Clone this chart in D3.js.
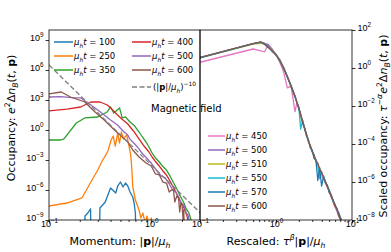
<!DOCTYPE html>
<html>
<head>
<meta charset="utf-8">
<script src="https://cdn.jsdelivr.net/npm/d3@7"></script>
<style>
body { margin: 0; background: #fff; }
svg { font-family: "DejaVu Sans", sans-serif; }
</style>
</head>
<body>
<script>
// ---- left panel: occupancy vs momentum at several times ----
var p100 = [0.22, 0.225, 0.24, 0.255, 0.258, 0.31, 0.315, 0.335, 0.355, 0.38, 0.4, 0.42, 0.45, 0.47, 0.5, 0.53, 0.56, 0.59, 0.62, 0.66, 0.68, 0.7, 0.71];
var n100 = [1e-12, 2.5e-9, 5e-9, 1.3e-8, 1e-12, 1e-12, 1.6e-8, 3.2e-8, 6.3e-8, 4e-7, 1.6e-6, 1e-6, 5e-7, 2.5e-6, 6.3e-6, 2e-6, 5e-6, 2.5e-6, 6.3e-7, 2e-7, 5e-8, 5e-9, 1e-12];

var p250 = [0.1, 0.15, 0.21, 0.257, 0.3, 0.335, 0.36, 0.38, 0.405, 0.425, 0.445, 0.47, 0.49, 0.51, 0.535, 0.575, 0.6, 0.63, 0.645, 0.66, 0.7, 0.76, 0.79, 0.83, 0.87, 0.91, 0.95, 1.0, 1.07];
var n250 = [2.5e-8, 5e-8, 1.6e-7, 6.3e-6, 1e-4, 1e-3, 3.2e-3, 0.01, 0.1, 0.25, 0.025, 0.5, 0.05, 0.63, 0.13, 0.32, 0.04, 3.2e-3, 1.6e-4, 2e-6, 1e-7, 1e-8, 1.6e-9, 5e-9, 5e-10, 2.5e-9, 3.2e-10, 1.6e-9, 1e-12];

var p350 = [0.1, 0.13, 0.14, 0.185, 0.224, 0.3, 0.37, 0.4, 0.43, 0.49, 0.52, 0.56, 0.62, 0.69, 0.76, 0.82, 0.89, 0.95, 1.02, 1.1, 1.2, 1.3, 1.41, 1.5, 1.6, 1.74, 1.9, 2.09, 2.2, 2.34, 2.5, 2.6];
var n350 = [0.1, 0.1, 0.13, 5, 16, 20, 63, 200, 50, 160, 16, 20, 6.3, 2.5, 0.63, 0.2, 0.063, 0.02, 5e-3, 1.6e-3, 6.3e-4, 2.2e-4, 1e-4, 3.5e-5, 1e-5, 2e-6, 3.2e-7, 5e-8, 1.3e-8, 5e-9, 5e-10, 1e-11];

var p400 = [0.1, 0.15, 0.204, 0.257, 0.316, 0.372, 0.42, 0.468, 0.53, 0.59, 0.67, 0.76, 0.85, 0.95, 1.02, 1.1, 1.2, 1.3, 1.41, 1.55, 1.74, 1.9, 2.09, 2.24, 2.34];
var n400 = [80, 125, 200, 630, 630, 316, 100, 32, 10, 4, 0.8, 0.13, 0.025, 6.3e-3, 2e-3, 7e-4, 2.5e-4, 8e-5, 3.2e-5, 6e-6, 6.3e-7, 1e-7, 1.6e-8, 2.5e-9, 3.2e-10];

var p500 = [0.1, 0.13, 0.178, 0.204, 0.257, 0.3, 0.347, 0.4, 0.468, 0.53, 0.589, 0.617, 0.69, 0.76, 0.81, 0.9, 1.0, 1.12, 1.25, 1.37, 1.48, 1.6, 1.74, 1.86, 1.97, 2.09, 2.2, 2.29, 2.4];
var n500 = [2000, 2200, 1600, 1600, 316, 100, 32, 10, 3.2, 0.8, 0.32, 0.13, 0.04, 0.013, 5e-3, 1.6e-3, 5e-4, 1e-4, 2.5e-5, 1.6e-5, 5e-6, 1.3e-6, 6e-7, 2e-7, 4e-8, 3.2e-8, 5e-9, 3.2e-9, 3.2e-10];

var p600 = [0.1, 0.132, 0.162, 0.224, 0.282, 0.347, 0.437, 0.52, 0.589, 0.66, 0.76, 0.89, 1.0, 1.1, 1.2, 1.3, 1.41, 1.5, 1.58, 1.65, 1.7, 1.78, 1.85, 1.9, 1.95, 2.0, 2.05, 2.08, 2.1];
var n600 = [4000, 6300, 2000, 630, 63, 10, 1, 0.2, 0.063, 0.01, 2e-3, 5e-4, 2.5e-4, 4e-5, 3.2e-5, 6.3e-6, 5e-6, 6.3e-7, 1e-6, 1e-6, 6.3e-8, 2.5e-7, 1.6e-7, 6.3e-9, 5e-8, 4e-8, 1e-9, 1e-8, 3e-10];

// power-law guide (|p|/mu_h)^-10, two end points
var powP = [0.1, 3];
var powN = [3.2e6, 5.4e-9];

var leftTimes = ["100", "250", "350", "400", "500", "600"];
var leftColors = ["#1f77b4", "#ff7f0e", "#2ca02c", "#d62728", "#9467bd", "#8c564b"];

// ---- right panel: rescaled occupancy ----
var rescaledP = [0.1, 0.5, 0.63, 0.71, 0.79, 0.89, 1.0, 1.12, 1.26, 1.41, 1.58, 1.78, 1.88, 2.0, 2.11, 2.24, 2.37, 2.51, 2.66, 2.82, 2.99, 3.16, 3.35, 3.55, 3.76, 3.98, 4.22, 4.47, 4.73, 5.01, 5.31, 5.62, 5.96, 6.31, 6.68, 7.08, 7.5, 7.94];
var s450 = [2.0, 10, 7.9, 7.1, 17.8, 7.9, 5.0, 2.0, 0.63, 0.089, 0.11, 5.0e-3, 0.014, 7.5e-3, 3.2e-3, 1.5e-3, 6.8e-4, 3.0e-4, 1.5e-4, 7.5e-5, 4.2e-5, 2.3e-5, 1.3e-5, 8.0e-6, 4.6e-6, 2.9e-6, 1.6e-6, 8.9e-7, 5.5e-7, 3.0e-7, 1.7e-7, 9.0e-8, 5.0e-8, 3.0e-8, 1.6e-8, 9.0e-9, 4.0e-9, 2.0e-9];
var s500 = [3.5, 19, 22, 20, 17, 10, 5.0, 2.6, 1.0, 0.36, 0.11, 0.032, 0.016, 8.0e-3, 3.4e-3, 1.6e-3, 7.2e-4, 3.1e-4, 1.6e-4, 8.0e-5, 4.4e-5, 2.5e-5, 1.4e-5, 8.8e-6, 5.0e-6, 3.2e-6, 1.8e-6, 1.0e-6, 6.2e-7, 3.5e-7, 2.0e-7, 1.1e-7, 6.2e-8, 3.9e-8, 2.2e-8, 1.3e-8, 6.0e-9, 3.1e-9];
var s510 = [3.4, 18, 20, 19, 13.5, 8.5, 5.3, 2.5, 1.1, 0.34, 0.12, 0.031, 0.017, 7.5e-3, 3.6e-3, 1.5e-3, 7.3e-4, 3.0e-4, 1.7e-4, 7.5e-5, 4.6e-5, 2.4e-5, 1.45e-5, 8.5e-6, 5.2e-6, 3.1e-6, 1.9e-6, 9.6e-7, 6.6e-7, 3.4e-7, 2.1e-7, 1.05e-7, 6.5e-8, 3.8e-8, 2.3e-8, 1.25e-8, 6.5e-9, 3.0e-9];
var s550 = [3.4, 19, 22, 18.5, 12, 8.0, 4.9, 2.7, 0.98, 0.36, 0.105, 0.033, 0.015, 8.2e-3, 6.0e-4, 1.7e-3, 6.8e-4, 3.3e-4, 1.5e-4, 8.2e-5, 4.2e-5, 2.6e-5, 1.3e-5, 9.2e-6, 1.5e-6, 3.0e-6, 1.9e-6, 9.5e-7, 6.5e-7, 3.3e-7, 2.1e-7, 1.05e-7, 6.0e-8, 4.1e-8, 2.1e-8, 1.35e-8, 6.0e-9, 3.3e-9];
var s570 = [3.5, 19, 23, 19, 13, 7.5, 5.2, 2.4, 1.05, 0.33, 0.12, 0.03, 0.017, 7.0e-3, 3.8e-3, 1.2e-3, 7.5e-4, 2.8e-4, 1.7e-4, 6.5e-5, 4.8e-5, 1.8e-5, 1.5e-5, 1.2e-6, 5.5e-6, 6.0e-7, 2.0e-6, 9.0e-7, 6.8e-7, 2.8e-7, 2.2e-7, 1.0e-7, 6.8e-8, 3.5e-8, 2.4e-8, 1.1e-8, 6.8e-9, 3.0e-9];
var s600 = [3.6, 19, 24, 17, 12, 8.3, 4.7, 2.7, 0.95, 0.37, 0.10, 0.034, 0.015, 8.5e-3, 3.2e-3, 1.7e-3, 6.5e-4, 3.5e-4, 1.4e-4, 8.5e-5, 3.9e-5, 2.8e-5, 1.2e-5, 9.5e-6, 4.4e-6, 3.4e-6, 1.6e-6, 1.1e-6, 5.5e-7, 3.8e-7, 1.7e-7, 1.2e-7, 5.2e-8, 4.2e-8, 1.6e-8, 1.2e-8, 3.5e-9, 2.0e-9];

var rightTimes = ["450", "500", "510", "550", "570", "600"];
var rightColors = ["#e377c2", "#9467bd", "#bcbd22", "#17becf", "#1f77b4", "#8c564b"];

var leftYTicks = [1e-9, 1e-6, 1e-3, 1e0, 1e3, 1e6, 1e9];
var rightYTicks = [1e-8, 1e-6, 1e-4, 1e-2, 1e0, 1e2];
var leftXTicks = [0.1, 1];
var rightXTicks = [0.1, 1, 10];

var width = 391, height = 252;

// writes text made of plain / italic / bold / sub / sup pieces
function rich(sel, size, parts) {
  var shift = 0;
  parts.forEach(function(p) {
    var target = p.sub ? size * 0.3 : p.sup ? -size * 0.42 : 0;
    var ts = sel.append("tspan").text(p.t).attr("dy", target - shift);
    shift = target;
    if (p.sub || p.sup) ts.attr("font-size", size * 0.7);
    if (p.i) ts.style("font-style", "italic");
    if (p.b) ts.style("font-weight", "bold");
  });
}

function powerLabel(g, size) {
  g.selectAll(".tick text").each(function(d) {
    var t = d3.select(this);
    var e = Math.round(Math.log10(d));
    t.text(null).attr("font-size", size).attr("fill", "#000");
    rich(t, size, [{t: "10"}, {t: String(e).replace("-", "\u2212"), sup: true}]);
  });
}

function minors(lo, hi) {
  var out = [];
  for (var dec = lo; dec < hi; dec *= 10)
    for (var k = 2; k <= 9; k++) out.push(k * dec);
  return out;
}

var svg = d3.select("body").append("svg")
  .attr("width", width).attr("height", height);

var xL = d3.scaleLog().domain([0.1, 3]).range([49, 200]);
var yL = d3.scaleLog().domain([1e-9, 1e10]).range([220, 30]);
var xR = d3.scaleLog().domain([0.1, 10]).range([200, 352]);
var yR = d3.scaleLog().domain([1e-8, 1e2]).range([220, 30]);

var defs = svg.append("defs");
defs.append("clipPath").attr("id", "clipL").append("rect")
  .attr("x", 49).attr("y", 30).attr("width", 151).attr("height", 190);
defs.append("clipPath").attr("id", "clipR").append("rect")
  .attr("x", 200).attr("y", 30).attr("width", 152).attr("height", 190);

// left curves
var leftSeries = [[p100, n100], [p250, n250], [p350, n350], [p400, n400], [p500, n500], [p600, n600]];
var lineL = d3.line().x(function(d) { return xL(d[0]); }).y(function(d) { return yL(d[1]); });
var gL = svg.append("g").attr("clip-path", "url(#clipL)");
leftSeries.forEach(function(s, i) {
  gL.append("path")
    .datum(d3.zip(s[0], s[1]))
    .attr("d", lineL)
    .attr("fill", "none")
    .attr("stroke", leftColors[i])
    .attr("stroke-width", 1.3)
    .attr("stroke-linejoin", "round");
});
gL.append("path")
  .datum(d3.zip(powP, powN))
  .attr("d", lineL)
  .attr("fill", "none")
  .attr("stroke", "#808080")
  .attr("stroke-width", 1.3)
  .attr("stroke-dasharray", "5,2.5");

// right curves
var rightSeries = [s450, s500, s510, s550, s570, s600];
var lineR = d3.line().x(function(d) { return xR(d[0]); }).y(function(d) { return yR(d[1]); });
var gR = svg.append("g").attr("clip-path", "url(#clipR)");
rightSeries.forEach(function(s, i) {
  gR.append("path")
    .datum(d3.zip(rescaledP, s))
    .attr("d", lineR)
    .attr("fill", "none")
    .attr("stroke", rightColors[i])
    .attr("stroke-width", 1.3)
    .attr("stroke-linejoin", "round");
});

// axes
function styleAxis(g) {
  g.select(".domain").remove();
  g.selectAll(".tick line").attr("stroke", "#000").attr("stroke-width", 0.8);
}

var tickFont = 9;
var axLy = svg.append("g").attr("transform", "translate(49,0)")
  .call(d3.axisLeft(yL).tickValues(leftYTicks).tickSize(3.5).tickPadding(2));
styleAxis(axLy); powerLabel(axLy, tickFont);

var axLx = svg.append("g").attr("transform", "translate(0,220)")
  .call(d3.axisBottom(xL).tickValues(leftXTicks).tickSize(3.5).tickPadding(3));
styleAxis(axLx); powerLabel(axLx, tickFont);
var axLxm = svg.append("g").attr("transform", "translate(0,220)")
  .call(d3.axisBottom(xL).tickValues(minors(0.1, 1).concat([2])).tickSize(2).tickFormat(""));
styleAxis(axLxm);

var axRy = svg.append("g").attr("transform", "translate(352,0)")
  .call(d3.axisRight(yR).tickValues(rightYTicks).tickSize(3.5).tickPadding(2));
styleAxis(axRy); powerLabel(axRy, tickFont);

var axRx = svg.append("g").attr("transform", "translate(0,220)")
  .call(d3.axisBottom(xR).tickValues(rightXTicks).tickSize(3.5).tickPadding(3));
styleAxis(axRx); powerLabel(axRx, tickFont);
var axRxm = svg.append("g").attr("transform", "translate(0,220)")
  .call(d3.axisBottom(xR).tickValues(minors(0.1, 10)).tickSize(2).tickFormat(""));
styleAxis(axRxm);

// frames
svg.append("rect").attr("x", 49).attr("y", 30).attr("width", 151).attr("height", 190)
  .attr("fill", "none").attr("stroke", "#000").attr("stroke-width", 0.8);
svg.append("rect").attr("x", 200).attr("y", 30).attr("width", 152).attr("height", 190)
  .attr("fill", "none").attr("stroke", "#000").attr("stroke-width", 0.8);

// axis labels
var lab = 11;
var t1 = svg.append("text").attr("font-size", lab).attr("text-anchor", "middle")
  .attr("transform", "translate(14.5,118) rotate(-90)");
rich(t1, lab, [{t: "Occupancy: "}, {t: "e", i: true}, {t: "2", sup: true}, {t: "\u0394"}, {t: "n", i: true},
  {t: "B", sub: true, i: true}, {t: "("}, {t: "t", i: true}, {t: ", "}, {t: "p", b: true}, {t: ")"}]);

var t2 = svg.append("text").attr("font-size", lab).attr("text-anchor", "middle")
  .attr("transform", "translate(386.5,126) rotate(-90)");
rich(t2, lab, [{t: "Scaled occupancy: "}, {t: "\u03c4", i: true}, {t: "\u2212\u03b1", sup: true, i: true},
  {t: "e", i: true}, {t: "2", sup: true}, {t: "\u0394"}, {t: "n", i: true},
  {t: "B", sub: true, i: true}, {t: "("}, {t: "t", i: true}, {t: ", "}, {t: "p", b: true}, {t: ")"}]);

var t3 = svg.append("text").attr("font-size", lab).attr("text-anchor", "middle")
  .attr("x", 120).attr("y", 245);
rich(t3, lab, [{t: "Momentum: |"}, {t: "p", b: true}, {t: "|/"}, {t: "\u03bc", i: true}, {t: "h", sub: true, i: true}]);

var t4 = svg.append("text").attr("font-size", lab).attr("text-anchor", "middle")
  .attr("x", 276).attr("y", 245);
rich(t4, lab, [{t: "Rescaled: "}, {t: "\u03c4", i: true}, {t: "\u03b2", sup: true, i: true}, {t: "|"},
  {t: "p", b: true}, {t: "|/"}, {t: "\u03bc", i: true}, {t: "h", sub: true, i: true}]);

svg.append("text").attr("x", 151).attr("y", 112).attr("font-size", 10).text("Magnetic field");

// legends
var leg = 8.5;
function timeLabel(sel, time) {
  rich(sel, leg, [{t: "\u03bc", i: true}, {t: "h", sub: true, i: true}, {t: "t", i: true}, {t: " = " + time}]);
}
var leftLegendPos = [[54, 42], [54, 56], [54, 70], [132, 42], [132, 56], [132, 70]];
leftTimes.forEach(function(tm, i) {
  var x = leftLegendPos[i][0], y = leftLegendPos[i][1];
  svg.append("line").attr("x1", x).attr("x2", x + 19).attr("y1", y).attr("y2", y)
    .attr("stroke", leftColors[i]).attr("stroke-width", 1.5);
  timeLabel(svg.append("text").attr("x", x + 20).attr("y", y + 3).attr("font-size", leg), tm);
});
svg.append("line").attr("x1", 132).attr("x2", 151).attr("y1", 87).attr("y2", 87)
  .attr("stroke", "#808080").attr("stroke-width", 1.5).attr("stroke-dasharray", "5,2.5");
rich(svg.append("text").attr("x", 153).attr("y", 90).attr("font-size", leg), leg,
  [{t: "(|"}, {t: "p", b: true}, {t: "|/"}, {t: "\u03bc", i: true}, {t: "h", sub: true, i: true}, {t: ")"}, {t: "\u221210", sup: true}]);

rightTimes.forEach(function(tm, i) {
  var y = 136 + i * 14;
  svg.append("line").attr("x1", 208).attr("x2", 225).attr("y1", y).attr("y2", y)
    .attr("stroke", rightColors[i]).attr("stroke-width", 1.5);
  timeLabel(svg.append("text").attr("x", 226).attr("y", y + 3).attr("font-size", leg), tm);
});
</script>
</body>
</html>
